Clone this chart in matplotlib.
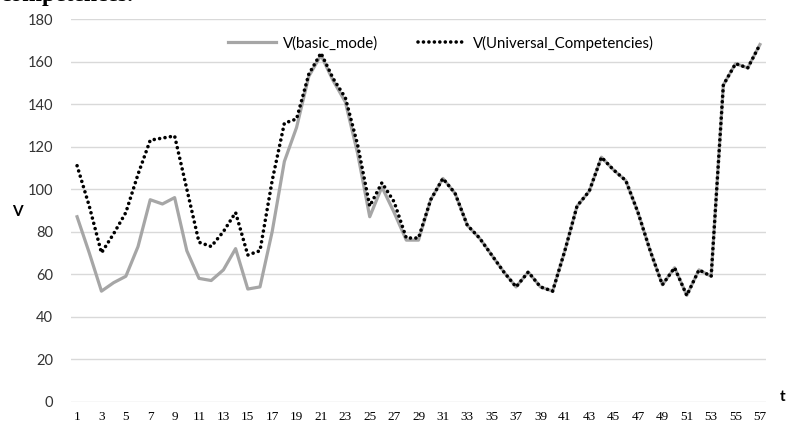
import matplotlib.pyplot as plt

# time steps
t = list(range(1, 58))

basic_mode = [87, 70, 52, 56, 59, 73, 95, 93, 96, 71,
              58, 57, 62, 72, 53, 54, 80, 113, 129, 153,
              163, 151, 141, 117, 87, 101, 89, 76, 76, 95,
              105, 98, 83, 77, 69, 61, 54, 61, 54, 52,
              71, 92, 99, 115, 109, 104, 89, 71, 55, 63,
              50, 62, 59, 149, 159, 157, 168]

universal = [111, 92, 70, 79, 89, 107, 123, 124, 125, 100,
             75, 73, 80, 89, 69, 71, 104, 131, 133, 154,
             164, 152, 143, 121, 92, 103, 94, 77, 77, 95,
             105, 98, 83, 77, 69, 61, 54, 61, 54, 52,
             71, 92, 99, 115, 109, 104, 89, 71, 55, 63,
             50, 62, 59, 149, 159, 157, 168]

y_ticks = [0, 20, 40, 60, 80, 100, 120, 140, 160, 180]

sans = ['Lato', 'DejaVu Sans']
serif = ['Liberation Serif', 'DejaVu Serif']

fig = plt.figure(figsize=(7.86, 4.28), dpi=100)
ax = fig.add_axes([0.0903, 0.0614, 0.8843, 0.8942])

ax.plot(t, basic_mode, color='#a6a6a6', lw=2.3, label='V(basic_mode)', zorder=2)
ax.plot(t, universal, color='black', lw=2.6, linestyle=(0, (0.01, 1.5)),
        dash_capstyle='round', label='V(Universal_Competencies)', zorder=3)

ax.set_xlim(0.5, 57.5)
ax.set_ylim(0, 180)
ax.set_yticks(y_ticks)
ax.set_xticks(t[::2])
ax.set_xticklabels([str(v) for v in t[::2]], fontfamily=serif, fontsize=9.5)
ax.set_yticklabels([str(v) for v in y_ticks], fontfamily=sans, fontsize=10.5, color='#333333')
ax.tick_params(length=0)
ax.tick_params(axis='x', pad=7)
ax.tick_params(axis='y', pad=13)

ax.grid(axis='y', color='#d9d9d9', lw=1)
ax.set_axisbelow(True)
for s in ax.spines.values():
    s.set_visible(False)

# axis names
fig.text(12 / 786, 1 - 212 / 428, 'V', fontfamily=sans, fontsize=11, fontweight='bold',
         ha='left', va='center')
fig.text(780 / 786, 1 - 397 / 428, 't', fontfamily=sans, fontsize=11, fontweight='bold',
         ha='left', va='center')

# caption of the page above, cut off at the top as in the source
fig.text(0.0, 1 - 1.5 / 428, 'competences.', fontfamily=serif, fontsize=17,
         fontweight='bold', ha='left', va='baseline')

leg = ax.legend(loc='center', bbox_to_anchor=(0.561, 1 - 43 / 428),
                bbox_transform=fig.transFigure, ncol=2, frameon=False,
                prop={'family': sans, 'size': 10.8}, handlelength=3.2,
                handletextpad=0.5, columnspacing=2.6)

plt.savefig('out.png', dpi=100)
